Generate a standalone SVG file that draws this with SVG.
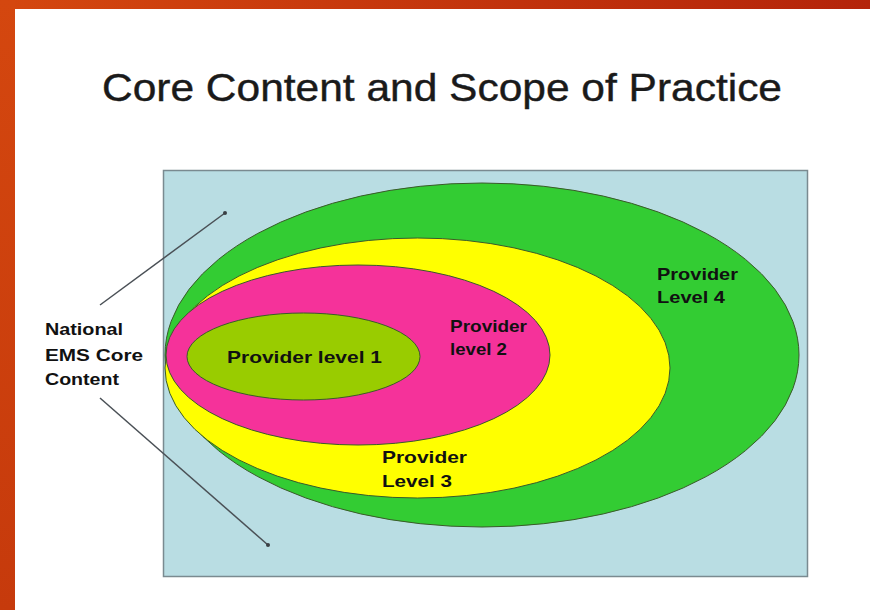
<svg xmlns="http://www.w3.org/2000/svg" width="870" height="610" viewBox="0 0 870 610">
<defs>
<linearGradient id="bar" x1="0" y1="0" x2="1" y2="0">
<stop offset="0" stop-color="#d4470f"/>
<stop offset="1" stop-color="#b4240a"/>
</linearGradient>
<linearGradient id="side" x1="0" y1="0" x2="0" y2="1">
<stop offset="0" stop-color="#d4470f"/>
<stop offset="1" stop-color="#c63a0c"/>
</linearGradient>
<marker id="dot" viewBox="0 0 6 6" refX="3" refY="3" markerWidth="4" markerHeight="4" markerUnits="userSpaceOnUse">
<circle cx="3" cy="3" r="3" fill="#3a3f44"/>
</marker>
</defs>
<style>
.lbl{font-family:"Liberation Sans",Arial,sans-serif;font-weight:bold;font-size:16.5px;fill:#111}
.ring{stroke:#3a5a2a;stroke-width:1}
.conn{stroke:#4a5056;stroke-width:1.5;fill:none;marker-end:url(#dot)}
</style>
<rect x="0" y="0" width="870" height="610" fill="#ffffff"/>
<rect x="0" y="0" width="870" height="9" fill="url(#bar)"/>
<rect x="0" y="0" width="15" height="610" fill="url(#side)"/>
<text x="442" y="101" text-anchor="middle" font-family="Liberation Sans,Arial,sans-serif" font-size="38" fill="#1a1a1a" stroke="#1a1a1a" stroke-width="0.4" textLength="680" lengthAdjust="spacingAndGlyphs">Core Content and Scope of Practice</text>
<g id="background">
<rect x="163.5" y="170.5" width="644" height="406" fill="#b9dde3" stroke="#7a8a90" stroke-width="1.5"/>
</g>
<g id="level4">
<ellipse class="ring" cx="482" cy="355" rx="317" ry="172" fill="#33cc33"/>
<text class="lbl" x="657" y="280" textLength="81" lengthAdjust="spacingAndGlyphs">Provider</text>
<text class="lbl" x="657" y="303" textLength="68" lengthAdjust="spacingAndGlyphs">Level 4</text>
</g>
<g id="level3">
<ellipse class="ring" cx="417.5" cy="368" rx="252.5" ry="130" fill="#ffff00"/>
<text class="lbl" x="382" y="463" textLength="85" lengthAdjust="spacingAndGlyphs">Provider</text>
<text class="lbl" x="382" y="487" textLength="70" lengthAdjust="spacingAndGlyphs">Level 3</text>
</g>
<g id="level2">
<ellipse class="ring" cx="358" cy="355" rx="192" ry="90" fill="#f5329a"/>
<text class="lbl" x="450" y="332" textLength="77" lengthAdjust="spacingAndGlyphs">Provider</text>
<text class="lbl" x="450" y="355" textLength="57" lengthAdjust="spacingAndGlyphs">level 2</text>
</g>
<g id="level1">
<ellipse class="ring" cx="303.5" cy="356.5" rx="116.5" ry="43.5" fill="#99cc00"/>
<text class="lbl" x="227" y="363" textLength="155" lengthAdjust="spacingAndGlyphs">Provider level 1</text>
</g>
<g id="national">
<text class="lbl" x="45" y="335" textLength="78" lengthAdjust="spacingAndGlyphs">National</text>
<text class="lbl" x="45" y="361" textLength="98" lengthAdjust="spacingAndGlyphs">EMS Core</text>
<text class="lbl" x="45" y="385" textLength="74" lengthAdjust="spacingAndGlyphs">Content</text>
</g>
<g id="connectors">
<line class="conn" x1="100" y1="305" x2="225" y2="213"/>
<line class="conn" x1="100" y1="398" x2="268" y2="545"/>
</g>
</svg>
